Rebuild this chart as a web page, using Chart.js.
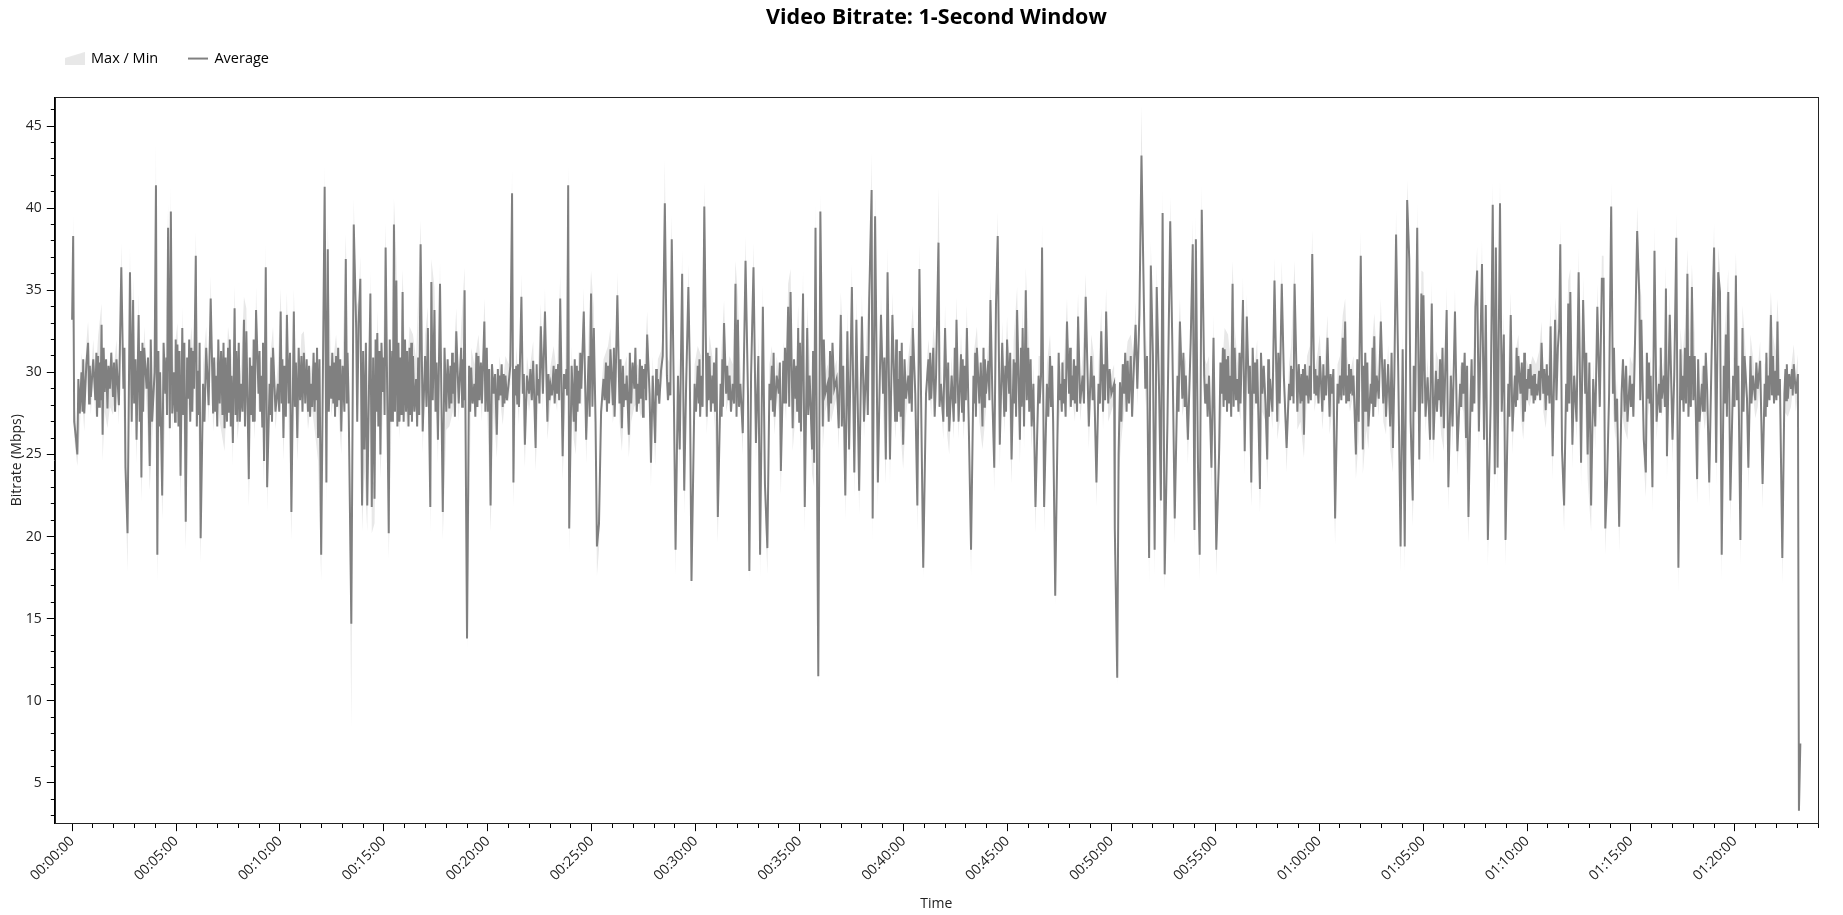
<!DOCTYPE html>
<html lang="en">
<head>
<meta charset="UTF-8">
<title>Video Bitrate: 1-Second Window</title>
<script src="https://cdn.jsdelivr.net/npm/chart.js"></script>
<style>
  html, body { margin: 0; padding: 0; background: #fff; }
  .wrap { position: relative; width: 1843px; height: 915px; }
</style>
</head>
<body>
<div class="wrap"><canvas id="bitrate"></canvas></div>
<script>
// average bitrate samples: [seconds from start, Mbps]
const avgSeries = [
  [0,33.2],[3,38.3],[6,27.0],[11,26.0],[15,25.0],[18,29.6],[22,27.5],[27,30.0],[30,27.6],[32,30.8],[35,27.5],[41,30.5],[46,31.8],[49,28.1],[51,30.4],
  [54,28.5],[61,30.8],[67,28.3],[70,31.2],[72,27.3],[75,31.0],[78,27.9],[80,30.6],[82,28.3],[85,32.9],[88,26.2],[91,31.5],[94,28.8],[98,30.8],[102,27.8],[105,30.4],[109,29.0],[113,31.2],[118,28.5],[121,30.6],[124,27.6],
  [128,30.8],[135,28.0],[142,36.4],[148,29.0],[151,31.5],[154,24.2],[160,20.2],[167,36.1],[172,27.0],[176,34.4],[179,28.1],[183,30.8],[186,25.9],
  [192,33.5],[195,27.0],[197,31.3],[200,23.6],[203,31.8],[205,27.6],[208,31.5],[215,29.0],[219,30.9],[224,24.3],[227,32.0],[231,27.0],[238,30.0],[242,41.4],[246,18.9],[249,31.3],[251,26.7],[254,30.0],
  [260,22.5],[264,31.8],[269,28.7],[272,30.9],[274,27.4],[277,38.8],[282,26.6],[285,39.8],[289,27.5],[294,30.0],[297,27.0],[299,32.0],[301,27.6],[304,31.7],[307,26.7],[310,31.3],[313,23.7],[318,32.7],[321,27.4],[324,31.8],
  [328,20.9],[332,30.9],[335,28.4],[338,32.0],[341,27.0],[344,31.5],[347,27.6],[349,31.3],[352,29.0],[357,37.1],[360,26.7],[363,30.1],[366,27.4],[368,31.8],[371,19.9],[378,29.3],[382,27.0],[387,31.5],[394,28.0],
  [400,34.5],[407,27.5],[410,30.9],[413,27.6],[416,29.8],[419,26.7],[422,32.0],[426,28.1],[430,31.3],[434,27.4],[437,31.8],[440,26.6],[443,30.9],[447,27.0],[450,31.5],[453,27.6],[455,32.0],[458,26.7],[460,29.8],[464,25.7],[469,33.9],[472,27.4],[474,31.3],[477,27.0],[481,31.8],[484,27.0],
  [488,29.3],[492,27.6],[496,33.2],[499,26.7],[503,32.5],[510,23.5],[513,30.9],[516,27.4],[519,30.4],[522,27.0],[524,32.0],[527,27.0],[531,33.8],[538,28.7],[541,31.3],[543,27.6],[546,29.8],[549,26.7],[551,31.8],[554,24.6],
  [559,36.4],[563,23.0],[570,29.3],[573,27.4],[575,30.9],[577,27.0],[580,31.5],[587,27.6],[594,29.3],[598,27.6],[602,33.7],[605,28.1],[607,30.8],[610,26.0],[613,30.4],[617,27.3],[620,33.5],[625,28.1],[629,31.2],
  [633,21.5],[640,33.7],[643,27.9],[646,30.6],[650,26.0],[654,31.5],[658,28.3],[662,31.0],[665,27.6],[669,31.2],[673,28.1],[677,30.8],[681,27.6],[684,30.4],[687,27.3],[690,29.3],[693,27.9],[697,31.2],[700,27.6],[703,30.6],[705,28.3],[707,31.5],[710,26.0],[714,30.8],[719,18.9],
  [729,41.3],[734,23.3],[738,37.5],[741,27.6],[744,30.4],[748,28.4],[751,31.2],[754,28.1],[757,30.6],[759,27.3],[762,31.0],[765,27.9],[768,31.5],[771,28.3],[774,30.8],[777,26.4],[781,30.4],[786,27.6],[790,36.9],[793,28.1],[795,31.2],[798,28.4],[806,14.7],[813,39.0],
  [820,32.7],[823,27.0],[827,33.0],[832,35.7],[837,21.9],[840,31.3],[844,25.3],[848,31.8],[852,21.9],[861,34.8],[865,21.8],[869,30.9],[873,22.3],[876,32.0],[878,27.6],[881,32.4],[884,26.7],[887,31.3],
  [890,25.0],[893,31.8],[897,28.8],[900,30.9],[902,27.4],[905,37.6],[914,20.2],[917,32.0],[921,27.0],[924,31.3],[926,27.0],[929,39.0],[932,27.6],[936,35.6],[939,26.7],[942,31.8],[945,27.0],[948,30.9],[951,27.4],[954,34.9],[957,27.0],[961,32.0],[964,27.6],[967,31.3],[971,26.7],
  [974,31.5],[977,27.4],[979,31.8],[981,27.0],[984,31.0],[988,27.6],[993,29.6],[996,26.7],[999,30.9],[1002,27.4],[1006,37.8],[1012,26.4],[1019,31.0],[1023,27.9],[1027,32.7],[1034,21.8],[1037,35.5],[1041,28.3],[1046,33.8],[1049,27.6],[1052,30.6],
  [1056,25.9],[1062,35.4],[1070,21.5],[1075,31.5],[1080,27.6],[1084,30.8],[1089,27.8],[1092,30.4],[1095,28.1],[1097,31.2],[1099,28.7],[1102,30.6],[1105,27.3],[1109,32.5],[1116,28.1],[1123,31.5],[1126,27.9],[1128,30.8],[1130,28.3],[1133,35.0],
  [1140,13.8],[1146,30.4],[1149,27.6],[1152,30.3],[1156,28.1],[1161,29.3],[1164,27.3],[1167,31.2],[1170,27.9],[1173,31.0],[1176,28.3],[1180,30.6],[1183,28.1],[1190,33.1],[1193,27.6],[1197,31.5],[1200,27.6],[1204,30.2],[1208,21.9],[1212,30.5],[1217,28.7],[1221,29.9],[1226,26.2],[1229,30.2],[1231,28.3],
  [1234,29.8],[1237,28.6],[1240,30.5],[1243,27.9],[1246,29.9],[1248,28.1],[1251,29.8],[1255,28.3],[1260,29.3],[1265,30.4],[1270,40.9],[1274,23.3],[1277,30.2],[1279,28.6],[1282,30.4],[1285,28.1],[1287,30.5],[1290,27.9],[1297,34.6],
  [1301,28.7],[1304,29.9],[1307,25.6],[1313,29.8],[1319,28.7],[1323,30.2],[1327,28.3],[1331,30.7],[1338,25.4],[1341,30.5],[1343,28.6],[1346,29.6],[1349,28.1],[1353,32.8],[1359,28.7],[1365,33.7],
  [1372,27.0],[1375,29.9],[1378,28.3],[1381,29.2],[1385,28.6],[1390,30.4],[1393,28.1],[1397,30.2],[1400,28.7],[1403,30.5],[1406,28.3],[1409,34.5],[1416,24.9],[1420,29.9],[1424,29.0],[1427,30.2],[1429,28.6],[1432,41.4],[1435,20.5],[1442,30.4],
  [1448,27.0],[1451,30.8],[1454,26.4],[1457,30.4],[1459,27.6],[1462,30.1],[1465,28.1],[1467,31.2],[1470,29.0],[1477,33.7],[1484,25.9],[1491,31.0],[1494,27.3],[1498,34.8],[1502,27.9],[1506,32.7],[1511,27.0],
  [1515,19.4],[1521,20.8],[1527,27.6],[1534,29.6],[1537,28.3],[1541,30.6],[1544,27.6],[1547,30.4],[1550,28.1],[1554,31.4],[1561,28.0],[1564,31.5],[1566,27.3],[1569,29.6],[1574,34.7],[1580,28.1],[1583,30.8],
  [1587,26.6],[1590,30.4],[1592,27.9],[1595,29.3],[1598,28.3],[1601,29.8],[1607,26.2],[1610,31.2],[1614,28.1],[1618,30.6],[1623,29.0],[1626,31.5],[1630,27.6],[1633,29.3],[1636,28.1],[1639,30.8],[1642,28.4],[1645,30.4],[1648,27.3],[1650,30.2],[1652,29.0],[1655,30.5],[1657,28.3],[1660,32.3],
  [1667,28.7],[1671,24.5],[1676,29.8],[1683,25.7],[1686,30.2],[1688,28.6],[1691,29.6],[1695,28.1],[1700,30.1],[1705,31.0],[1711,40.3],[1717,29.8],[1720,28.3],[1724,29.4],[1727,28.6],
  [1731,38.1],[1737,28.7],[1742,19.2],[1749,29.8],[1754,25.3],[1761,36.0],[1767,22.8],[1772,28.7],[1779,35.2],[1783,30.4],
  [1788,17.3],[1797,29.3],[1801,27.6],[1806,30.4],[1809,28.1],[1811,30.8],[1813,27.3],[1816,29.8],[1820,27.9],[1825,40.1],[1832,27.3],[1835,31.2],[1837,28.3],[1840,31.0],[1844,27.6],[1848,29.8],[1851,28.1],[1853,30.6],[1856,27.6],[1860,31.5],[1864,21.2],
  [1872,29.3],[1875,27.3],[1877,30.8],[1879,27.9],[1882,33.0],[1888,28.7],[1891,30.4],[1895,28.3],[1898,29.8],[1902,27.6],[1907,29.3],[1911,28.1],[1915,35.4],[1918,27.3],[1922,33.2],[1925,27.9],[1929,29.3],[1936,26.3],[1944,36.8],
  [1951,28.7],[1955,17.9],[1960,29.8],[1967,36.4],[1974,25.7],[1981,31.0],[1986,18.9],[1994,34.0],[2000,23.2],[2007,19.3],
  [2013,29.3],[2016,28.3],[2020,30.4],[2023,27.6],[2025,31.2],[2028,27.3],[2034,29.8],[2040,28.7],[2043,30.6],[2046,24.0],[2053,30.7],[2056,28.1],[2058,31.5],[2061,28.1],[2067,34.0],[2070,27.9],[2074,34.9],
  [2080,26.6],[2084,30.8],[2088,28.4],[2091,30.4],[2093,27.6],[2096,32.7],[2099,27.0],[2101,31.8],[2104,26.4],[2110,34.8],[2115,21.8],[2122,32.7],[2125,27.4],[2129,29.8],[2136,25.3],[2139,31.3],[2142,24.5],
  [2146,38.8],[2154,11.5],[2160,39.8],[2167,26.7],[2170,32.0],[2174,28.7],[2181,29.3],[2184,27.0],[2188,31.3],[2191,28.1],[2195,31.8],[2200,29.0],[2207,29.6],[2213,26.6],
  [2219,33.5],[2222,26.7],[2226,30.4],[2232,22.5],[2238,32.5],[2243,25.3],[2251,35.2],[2258,23.9],[2264,33.2],[2272,22.8],[2280,33.4],
  [2286,27.0],[2293,31.0],[2297,27.4],[2301,34.4],[2308,41.1],[2311,21.1],[2318,39.5],[2326,23.3],[2335,33.5],[2341,28.7],[2345,30.9],[2349,24.7],
  [2354,36.1],[2361,24.7],[2368,33.5],[2376,27.0],[2379,32.0],[2381,27.0],[2384,29.6],[2387,27.6],[2389,31.3],[2392,27.3],[2395,31.8],[2399,25.6],[2403,30.8],[2407,28.4],[2414,29.8],[2417,28.1],[2421,31.0],[2424,27.6],
  [2427,32.7],[2434,28.7],[2440,21.9],[2446,36.3],[2457,18.1],[2465,28.7],[2472,30.8],[2475,28.3],[2477,31.2],[2480,28.4],[2486,31.5],[2490,27.3],[2494,29.8],
  [2501,37.9],[2504,27.9],[2508,29.3],[2515,27.0],[2520,32.7],[2526,27.3],[2529,30.6],[2532,26.4],[2539,29.8],[2545,27.0],[2548,31.5],[2550,28.1],[2553,33.2],[2559,27.0],
  [2566,31.1],[2569,27.6],[2571,30.8],[2574,27.0],[2577,30.4],[2580,28.3],[2583,32.7],[2588,27.3],[2595,19.2],[2602,29.8],[2605,28.1],[2607,31.2],[2609,27.3],[2612,31.5],[2619,28.1],[2623,30.6],[2628,26.7],[2631,31.5],[2633,27.9],[2635,30.8],[2638,28.7],
  [2645,30.7],[2648,28.3],[2651,34.4],[2657,28.1],[2662,24.2],[2667,34.1],[2672,38.3],[2678,25.6],[2685,31.8],[2691,27.3],[2694,30.4],[2696,27.6],[2699,32.0],
  [2705,28.7],[2708,31.2],[2712,24.7],[2718,30.8],[2721,28.1],[2723,30.6],[2725,27.3],[2728,33.8],[2736,25.9],[2739,31.5],[2741,27.9],[2744,32.7],[2748,26.7],[2753,35.0],[2756,28.3],[2760,31.5],[2763,27.6],[2767,30.8],[2770,26.7],
  [2775,29.3],[2781,21.8],[2790,29.8],[2793,28.1],[2797,29.8],[2800,37.6],[2806,21.8],[2814,29.3],[2818,27.3],[2823,31.0],[2826,27.9],[2829,30.4],[2832,27.0],[2838,16.4],
  [2845,27.0],[2848,31.2],[2851,28.3],[2854,29.3],[2857,27.6],[2859,30.6],[2861,28.1],[2864,29.6],[2868,27.3],[2872,33.1],[2878,28.7],[2881,31.5],[2883,27.9],[2886,29.8],[2889,28.3],[2892,30.8],[2895,28.1],[2898,30.4],[2901,27.6],[2904,33.4],[2910,28.1],[2917,29.8],[2921,28.1],
  [2926,34.6],[2935,26.7],[2942,31.0],[2946,28.3],[2950,29.8],[2957,23.3],[2963,29.3],[2967,28.1],[2971,32.5],[2976,27.6],[2979,30.5],[2982,28.3],[2985,33.7],[2991,28.1],[2995,30.2],
  [3000,28.7],[3008,29.3],[3010,20.5],[3017,11.4],[3021,25.0],[3025,29.4],[3029,27.0],[3033,30.5],[3037,28.7],[3040,31.2],[3044,27.6],[3047,30.7],[3051,28.1],[3056,31.0],[3060,27.3],[3064,29.8],
  [3070,32.9],[3075,29.0],[3081,33.5],[3087,43.2],[3093,35.5],[3098,29.0],[3103,31.0],[3109,18.7],[3114,36.5],[3120,31.0],
  [3125,19.2],[3131,35.2],[3138,28.7],[3143,22.2],[3148,39.7],[3154,17.7],[3162,27.0],[3170,39.2],[3176,31.8],[3183,21.1],
  [3191,29.8],[3194,27.6],[3198,33.1],[3205,28.4],[3208,31.2],[3212,27.9],[3215,29.8],[3221,25.9],[3229,31.8],[3235,37.8],[3240,20.4],[3244,38.1],[3250,24.5],
  [3255,18.9],[3261,39.9],[3268,29.8],[3271,28.1],[3275,29.3],[3278,27.3],[3282,29.8],[3289,24.2],[3295,32.1],[3303,19.2],[3311,25.0],[3315,30.6],[3319,28.7],[3322,31.5],[3324,27.9],
  [3327,31.4],[3330,28.3],[3332,30.8],[3334,27.6],[3337,31.0],[3340,28.1],[3343,29.8],[3346,27.3],[3350,35.4],[3353,27.9],[3356,31.5],[3360,28.3],[3364,29.6],[3367,27.6],[3370,31.2],[3373,28.1],[3380,34.4],[3385,25.2],[3391,33.4],
  [3397,28.7],[3400,30.4],[3404,23.3],[3408,31.5],[3412,28.7],[3415,30.6],[3418,28.1],[3421,30.8],[3429,22.9],[3432,31.2],[3436,28.7],[3440,30.4],[3445,28.1],[3450,24.7],[3453,30.8],[3455,27.3],[3458,29.6],[3465,27.6],
  [3471,35.6],[3479,27.0],[3482,31.2],[3486,28.1],[3492,35.4],[3498,29.8],[3506,25.4],[3513,29.3],[3516,28.3],[3519,30.4],[3522,28.6],[3524,30.2],[3526,28.1],[3529,35.4],[3537,27.6],[3541,30.5],
  [3546,28.1],[3549,29.9],[3551,28.3],[3553,30.2],[3556,26.2],[3559,30.5],[3562,28.6],[3565,29.8],[3569,28.1],[3573,30.4],[3576,28.3],[3580,37.2],[3586,28.7],[3589,30.2],[3591,28.6],[3594,29.8],[3598,28.1],[3602,31.0],[3609,27.6],[3612,30.5],[3614,28.3],[3617,29.8],[3620,28.6],
  [3624,32.1],[3630,27.3],[3633,29.9],[3637,28.7],[3641,30.2],[3646,21.1],[3653,29.3],[3656,28.1],[3660,29.8],[3664,28.3],[3668,32.1],[3671,28.6],[3675,33.1],[3678,28.1],[3681,29.8],[3684,28.3],[3686,30.5],[3689,28.7],[3692,30.2],[3696,28.6],
  [3699,29.8],[3706,25.0],[3710,30.8],[3714,27.0],[3720,37.1],[3726,25.3],[3729,30.4],[3731,27.6],[3733,31.2],[3736,27.6],[3739,30.6],[3742,26.7],[3749,29.3],[3752,28.1],[3754,31.5],[3756,27.3],[3759,32.2],[3762,27.9],[3766,29.8],
  [3772,28.4],[3778,33.1],[3785,28.1],[3789,30.8],[3793,27.3],[3799,30.5],[3805,26.7],[3809,31.2],[3813,25.4],[3817,29.8],[3822,38.4],[3828,30.4],
  [3835,19.4],[3841,31.4],[3847,19.4],[3854,40.5],[3860,36.9],[3864,27.0],[3870,22.2],[3873,30.4],[3877,27.6],[3883,38.8],[3889,24.7],
  [3895,34.8],[3898,28.1],[3901,34.7],[3907,27.3],[3913,29.7],[3920,25.9],[3925,34.2],[3930,25.9],[3937,30.1],[3940,27.6],[3944,29.6],[3947,28.3],[3949,30.8],[3952,27.3],[3956,31.5],
  [3960,26.6],[3968,33.8],[3973,23.0],[3980,29.8],[3985,26.7],[3992,33.7],[3999,25.2],[4007,29.3],[4010,27.9],[4013,30.6],[4016,28.7],[4020,31.2],[4024,26.0],[4027,30.4],
  [4031,21.2],[4037,28.4],[4040,30.8],[4042,27.6],[4045,29.8],[4048,28.1],[4051,34.0],[4056,36.2],[4061,26.4],[4070,36.6],[4076,25.9],[4081,34.1],[4087,19.8],
  [4095,28.1],[4101,40.2],[4107,23.8],[4110,37.6],[4115,24.2],[4122,40.3],[4127,27.6],[4133,32.3],[4138,19.8],[4146,29.3],[4149,27.3],
  [4153,33.5],[4158,26.4],[4165,29.8],[4168,27.9],[4170,31.5],[4172,28.3],[4175,31.0],[4181,28.7],[4185,30.6],[4189,27.0],[4192,31.2],[4194,27.6],[4197,29.6],[4200,28.3],[4204,30.2],[4207,29.0],[4210,30.5],[4213,28.6],[4216,29.8],[4219,28.1],[4221,29.9],[4223,28.3],[4226,29.3],[4230,28.6],
  [4235,30.1],[4238,28.3],[4242,31.8],[4247,28.7],[4250,30.2],[4254,27.7],[4257,30.5],[4259,28.6],[4262,29.8],[4265,28.1],[4268,32.8],[4274,24.9],[4281,33.2],[4285,28.3],[4289,31.5],[4293,32.7],
  [4296,37.8],[4301,25.3],[4307,21.9],[4313,29.3],[4316,27.6],[4319,34.2],[4322,28.1],[4325,34.9],[4331,25.6],[4336,29.8],[4343,27.0],[4349,36.1],
  [4356,24.5],[4362,34.4],[4368,28.7],[4371,31.2],[4375,25.0],[4380,30.6],[4385,21.9],[4391,29.6],[4397,26.7],[4403,34.0],[4410,27.9],[4416,35.7],
  [4421,35.7],[4426,20.5],[4431,23.3],[4437,28.7],[4443,40.1],[4448,28.7],[4451,31.5],[4455,27.0],[4460,28.4],[4466,20.6],[4473,28.7],[4477,30.8],
  [4482,27.6],[4486,30.4],[4490,27.0],[4497,29.8],[4500,27.9],[4504,29.3],[4507,27.3],[4511,31.0],[4518,38.6],[4524,34.7],[4527,28.3],[4530,33.2],[4537,25.9],[4543,23.9],[4546,31.2],
  [4549,28.4],[4552,30.6],[4554,28.1],[4557,29.8],[4562,23.0],[4568,37.4],[4574,27.0],[4581,29.3],[4584,27.6],[4586,31.5],[4589,28.4],[4595,29.8],[4598,27.9],[4601,35.1],[4604,24.9],
  [4612,33.5],[4620,25.9],[4625,29.8],[4631,38.2],[4637,18.1],[4643,31.4],[4646,28.3],[4649,29.8],[4652,27.6],[4656,31.5],[4659,28.1],[4663,36.0],[4666,27.3],[4670,31.0],[4673,27.9],
  [4676,35.2],[4680,28.3],[4684,31.0],[4691,23.5],[4694,30.8],[4698,27.0],[4705,29.3],[4708,27.6],[4710,30.4],[4713,27.6],[4716,31.2],[4720,29.0],[4726,23.3],[4733,31.2],[4740,37.6],
  [4746,24.5],[4752,36.1],[4757,34.9],[4762,18.9],[4768,30.4],[4771,28.1],[4774,32.3],[4777,27.3],[4781,34.9],[4787,22.2],[4795,29.8],[4799,27.9],[4803,35.9],[4806,28.3],
  [4810,30.4],[4816,19.8],[4822,32.7],[4825,27.6],[4828,31.0],[4835,28.4],[4839,24.2],[4845,31.0],[4848,28.1],[4852,29.8],[4859,28.3],[4862,30.6],[4866,29.0],
  [4873,30.7],[4880,23.2],[4886,29.3],[4889,27.3],[4891,31.2],[4893,27.9],[4896,29.8],[4900,28.3],[4904,33.5],[4907,28.6],[4910,31.0],[4913,28.1],[4917,30.1],[4920,28.3],[4923,33.1],[4926,28.6],[4930,29.6],[4937,18.7],
  [4943,28.7],[4946,30.2],[4948,28.3],[4950,30.5],[4953,28.4],[4957,29.9],[4962,29.0],[4965,30.2],[4967,28.6],[4970,30.5],[4976,28.7],[4982,29.9],[4985,3.3],[4989,7.4]
];

// time of each max/min window reading, seconds from start
const bandSeconds = [
  0,3,6,11,15,22,27,35,41,46, 54,61,67,75,85,88,94,102,109,118,
  128,135,142,148,154,160,167,172,176,186, 192,200,208,215,224,231,238,242,246,254,
  260,269,277,282,285,289,294,304,313,318, 328,335,344,352,357,363,371,378,387,394,
  400,407,416,426,440,450,460,464,469,477, 488,496,503,510,519,527,531,538,546,554,
  559,563,570,580,587,594,602,610,620,625, 633,640,650,662,669,681,690,700,710,719,
  729,734,738,748,762,777,790,798,806,813, 820,827,832,837,844,852,861,865,873,881,
  890,897,905,914,921,929,936,945,954,964, 974,984,993,1006,1012,1019,1027,1034,1037,1046,
  1056,1062,1070,1080,1089,1099,1109,1116,1123,1133, 1140,1152,1161,1173,1183,1190,1200,1208,1217,1226,
  1234,1243,1251,1260,1265,1270,1274,1282,1290,1297, 1301,1307,1313,1319,1331,1338,1346,1353,1359,1365,
  1372,1381,1390,1400,1409,1416,1424,1432,1435,1442, 1448,1454,1462,1470,1477,1484,1491,1498,1506,1511,
  1515,1521,1527,1534,1547,1554,1561,1569,1574,1580, 1587,1595,1601,1607,1614,1623,1633,1642,1652,1660,
  1667,1671,1676,1683,1691,1700,1705,1711,1717,1724, 1731,1737,1742,1749,1754,1761,1767,1772,1779,1783,
  1788,1797,1806,1816,1825,1832,1840,1848,1856,1864, 1872,1882,1888,1898,1907,1915,1922,1929,1936,1944,
  1951,1955,1960,1967,1974,1981,1986,1994,2000,2007, 2013,2020,2028,2034,2040,2046,2053,2061,2067,2074,
  2080,2088,2096,2104,2110,2115,2122,2129,2136,2142, 2146,2154,2160,2167,2174,2181,2191,2200,2207,2213,
  2219,2226,2232,2238,2243,2251,2258,2264,2272,2280, 2286,2293,2301,2308,2311,2318,2326,2335,2341,2349,
  2354,2361,2368,2376,2384,2392,2399,2407,2414,2421, 2427,2434,2440,2446,2457,2465,2472,2480,2486,2494,
  2501,2508,2515,2520,2526,2532,2539,2545,2553,2559, 2566,2574,2583,2588,2595,2602,2612,2619,2628,2638,
  2645,2651,2657,2662,2667,2672,2678,2685,2691,2699, 2705,2712,2718,2728,2736,2744,2748,2753,2760,2770,
  2775,2781,2790,2797,2800,2806,2814,2823,2832,2838, 2845,2854,2864,2872,2878,2886,2895,2904,2910,2917,
  2926,2935,2942,2950,2957,2963,2971,2976,2985,2991, 3000,3008,3010,3017,3021,3029,3037,3047,3056,3064,
  3070,3075,3081,3087,3093,3098,3103,3109,3114,3120, 3125,3131,3138,3143,3148,3154,3162,3170,3176,3183,
  3191,3198,3205,3215,3221,3229,3235,3240,3244,3250, 3255,3261,3268,3275,3282,3289,3295,3303,3311,3319,
  3327,3337,3343,3350,3356,3364,3373,3380,3385,3391, 3397,3404,3412,3421,3429,3436,3445,3450,3458,3465,
  3471,3479,3486,3492,3498,3506,3513,3519,3529,3537, 3546,3556,3565,3573,3580,3586,3594,3602,3609,3617,
  3624,3630,3637,3646,3653,3660,3668,3675,3681,3689, 3699,3706,3714,3720,3726,3736,3742,3749,3759,3766,
  3772,3778,3785,3793,3799,3805,3813,3817,3822,3828, 3835,3841,3847,3854,3860,3864,3870,3877,3883,3889,
  3895,3901,3907,3913,3920,3925,3930,3937,3944,3952, 3960,3968,3973,3980,3985,3992,3999,4007,4016,4024,
  4031,4037,4045,4051,4056,4061,4070,4076,4081,4087, 4095,4101,4107,4110,4115,4122,4127,4133,4138,4146,
  4153,4158,4165,4175,4181,4189,4197,4207,4216,4226, 4235,4242,4247,4254,4262,4268,4274,4281,4289,4293,
  4296,4301,4307,4313,4319,4325,4331,4336,4343,4349, 4356,4362,4368,4375,4385,4391,4397,4403,4410,4416,
  4421,4426,4431,4437,4443,4448,4455,4460,4466,4473, 4482,4490,4497,4504,4511,4518,4524,4530,4537,4543,
  4549,4557,4562,4568,4574,4581,4589,4595,4601,4604, 4612,4620,4625,4631,4637,4643,4649,4656,4663,4670,
  4676,4684,4691,4698,4705,4713,4720,4726,4733,4740, 4746,4752,4757,4762,4768,4774,4781,4787,4795,4803,
  4810,4816,4822,4828,4835,4839,4845,4852,4859,4866, 4873,4880,4886,4896,4904,4910,4917,4923,4930,4937,
  4943,4953,4962,4970,4976,4982,4985,4989
];

// highest 1-second value in each window, Mbps
const maxMbps = [
  34.4,39.6,28.2,27.2,26.2,28.8,31.2,28.8,31.8,33.1, 29.7,32.0,29.5,32.2,34.2,27.4,30.0,29.0,30.2,29.7,
  32.0,29.2,37.9,30.2,25.4,21.4,37.6,28.2,35.8,27.1, 34.8,24.8,32.8,30.2,25.5,28.2,31.3,44.0,20.1,31.2,
  23.7,29.9,40.3,27.8,41.4,28.7,31.2,33.0,24.9,34.0, 22.1,29.6,32.8,30.2,38.6,31.3,21.1,30.5,32.8,29.2,
  35.9,28.7,31.0,29.3,27.8,32.8,31.0,26.9,35.3,28.2, 30.5,34.6,33.9,24.7,31.6,28.2,35.2,29.9,31.0,25.8,
  37.9,24.2,30.5,32.8,28.8,30.5,35.1,27.2,34.9,29.3, 22.7,35.1,27.2,32.3,32.5,28.8,30.5,28.8,27.2,20.1,
  42.6,24.5,39.1,29.6,32.3,27.6,38.4,29.6,15.9,40.6, 34.0,34.4,37.1,23.1,26.5,23.1,36.2,23.0,23.5,33.8,
  26.2,30.0,39.1,21.4,28.2,40.6,37.0,28.2,36.3,28.8, 32.8,32.3,30.8,39.3,27.6,32.3,34.0,23.0,36.9,35.2,
  27.1,36.8,22.7,28.8,29.0,29.9,33.9,29.3,32.8,36.4, 15.0,31.5,30.5,32.3,29.3,34.5,28.8,23.1,29.9,27.4,
  31.0,29.1,31.0,30.5,31.6,42.4,24.5,31.6,29.1,36.0, 29.9,26.8,31.0,29.9,31.9,26.6,30.8,34.2,29.9,35.1,
  28.2,30.4,31.6,29.9,35.9,26.1,30.2,42.6,21.7,31.6, 28.2,27.6,31.3,30.2,35.1,27.1,32.3,36.2,34.0,28.2,
  20.6,22.0,28.8,30.8,31.6,32.7,29.2,30.8,36.1,29.3, 27.8,30.5,31.0,27.4,29.3,30.2,30.5,29.6,30.2,33.7,
  29.9,25.7,31.0,26.9,30.8,31.3,32.3,43.0,31.0,30.6, 39.6,29.9,20.4,31.0,26.5,37.5,24.0,29.9,36.6,31.6,
  18.5,30.5,31.6,31.0,41.6,28.5,32.3,31.0,28.8,22.4, 30.5,34.4,29.9,31.0,30.5,36.8,34.6,30.5,27.5,38.3,
  29.9,19.1,31.0,37.9,26.9,32.3,20.1,35.4,24.4,20.5, 30.5,31.6,28.5,31.0,29.9,25.2,31.9,29.3,35.4,36.3,
  27.8,29.6,34.1,27.6,36.2,23.0,34.1,31.0,26.5,25.7, 40.3,12.7,40.9,27.9,29.9,30.5,29.3,30.2,30.8,27.8,
  34.9,31.6,23.7,33.9,26.5,36.6,25.1,34.6,24.0,34.8, 28.2,32.3,35.8,43.4,22.3,41.0,24.5,34.9,29.9,25.9,
  37.6,25.9,34.9,28.2,30.8,28.5,26.8,29.6,31.0,32.3, 34.1,29.9,23.1,37.8,19.3,29.9,32.0,29.6,32.8,31.0,
  41.3,30.5,28.2,34.1,28.5,27.6,31.0,28.2,34.6,28.2, 32.4,28.2,34.1,28.5,20.4,31.0,32.8,29.3,27.9,29.9,
  31.9,35.8,29.3,25.4,35.5,39.8,26.8,33.1,28.5,33.4, 29.9,25.9,32.0,35.2,27.1,34.1,27.9,36.4,32.8,27.9,
  30.5,23.0,31.0,31.0,39.1,23.0,30.5,32.3,28.2,17.6, 28.2,30.5,30.8,34.5,29.9,31.0,29.3,34.8,29.3,31.0,
  36.0,27.9,32.3,31.0,24.5,30.5,33.9,28.8,35.1,29.3, 29.9,30.5,21.7,12.6,26.2,28.2,29.9,31.9,32.3,31.0,
  34.3,30.2,34.9,46.3,36.9,30.2,32.3,19.9,38.0,32.3, 20.4,36.6,29.9,23.4,41.2,18.9,28.2,40.7,33.1,22.3,
  31.0,34.5,29.6,31.0,27.1,33.1,39.3,21.6,39.6,25.7, 20.1,41.4,31.0,30.5,31.0,25.4,33.5,20.4,26.2,29.9,
  32.7,32.3,31.0,36.8,32.8,30.8,29.3,35.8,26.4,34.8, 29.9,24.5,29.9,32.0,24.1,29.9,29.3,25.9,30.8,28.8,
  37.0,28.2,29.3,36.8,31.0,26.6,30.5,31.6,36.8,28.8, 29.3,27.4,31.0,31.6,38.7,29.9,31.0,32.3,28.8,31.0,
  33.5,28.5,29.9,22.3,30.5,31.0,33.5,34.5,31.0,29.9, 31.0,26.2,28.2,38.6,26.5,28.8,27.9,30.5,33.6,31.0,
  29.6,34.5,29.3,28.5,31.7,27.9,26.6,31.0,39.9,31.6, 20.6,32.7,20.6,41.7,38.4,28.2,23.4,28.8,40.3,25.9,
  36.2,36.1,28.5,30.9,27.1,35.6,27.1,31.3,30.8,28.5, 27.8,35.2,24.2,31.0,27.9,35.1,26.4,30.5,29.9,27.2,
  22.4,29.6,31.0,35.4,37.7,27.6,38.1,27.1,35.5,21.0, 29.3,41.6,25.0,39.1,25.4,41.8,28.8,33.7,21.0,30.5,
  34.9,27.6,31.0,32.3,29.9,28.2,30.8,30.2,31.0,30.5, 31.3,33.1,29.9,28.9,31.0,34.2,26.1,34.6,32.8,34.1,
  39.3,26.5,23.1,30.5,35.6,36.3,26.8,31.0,28.2,37.6, 25.7,35.8,29.9,26.2,23.1,30.8,27.9,35.4,29.1,37.1,
  37.1,21.7,24.5,29.9,41.6,29.9,28.2,29.6,21.8,29.9, 28.8,28.2,31.0,30.5,32.3,40.1,36.1,34.6,27.1,25.1,
  29.6,31.0,24.2,38.9,28.2,30.5,29.6,31.0,36.5,26.1, 34.9,27.1,31.0,39.7,19.3,32.7,31.0,32.8,37.5,32.3,
  36.6,32.3,24.7,28.2,30.5,28.8,30.2,24.5,32.5,39.1, 25.7,37.6,36.3,20.1,31.6,33.7,36.3,23.4,31.0,37.3,
  31.6,21.0,34.1,32.3,29.6,25.4,32.3,31.0,29.5,30.2, 31.9,24.4,30.5,31.0,34.9,32.3,31.3,34.5,30.8,19.9,
  29.9,29.6,30.2,31.7,29.9,31.1,3.9,7.9
];

// lowest 1-second value in each window, Mbps
const minMbps = [
  32.2,37.2,26.0,25.0,24.3,26.4,29.0,26.4,29.4,30.7, 27.4,29.7,27.2,29.9,31.8,24.6,27.6,26.6,27.9,27.4,
  29.7,26.8,35.2,27.9,22.8,17.8,35.0,25.9,33.3,24.4, 32.3,22.1,30.4,27.9,22.8,25.8,28.9,40.2,17.2,28.9,
  21.0,27.6,37.7,25.2,38.7,26.4,28.9,30.6,22.2,31.6, 19.2,27.3,30.4,27.9,36.0,29.0,18.4,28.2,30.4,26.9,
  33.4,26.4,28.7,27.0,25.2,30.4,28.7,24.3,32.8,25.9, 28.2,32.1,31.4,21.8,29.3,25.9,32.7,27.6,28.7,23.1,
  35.3,21.5,28.2,30.4,26.5,28.2,32.6,24.6,32.4,27.0, 19.8,32.6,24.6,29.9,30.1,26.5,28.2,26.5,24.6,17.3,
  40.2,21.8,36.4,27.3,29.9,25.0,35.8,27.3,8.3,37.9, 31.6,31.9,34.6,20.3,23.9,20.3,33.7,20.2,20.8,31.3,
  23.5,27.7,36.5,18.6,25.9,37.9,34.5,25.9,33.8,26.5, 30.4,29.9,28.5,36.7,25.0,29.9,31.6,20.2,34.4,32.7,
  24.4,34.3,19.8,26.5,26.7,27.6,31.4,27.0,30.4,33.9, 13.2,29.2,28.2,29.9,27.0,32.0,26.5,20.3,27.6,24.8,
  28.7,26.8,28.7,28.2,29.3,39.8,21.8,29.3,26.8,33.5, 27.6,24.2,28.7,27.6,29.6,24.0,28.5,31.7,27.6,32.6,
  25.9,28.1,29.3,27.6,33.4,23.4,27.9,40.3,18.9,29.3, 25.9,25.0,29.0,27.9,32.6,24.4,29.9,33.7,31.6,25.9,
  17.6,19.2,26.5,28.5,29.3,30.3,26.9,28.5,33.6,27.0, 25.2,28.2,28.7,24.8,27.0,27.9,28.2,27.3,27.9,31.2,
  27.6,23.0,28.7,24.3,28.5,29.0,29.9,39.2,28.7,28.3, 37.0,27.6,17.6,28.7,23.8,34.9,21.3,27.6,34.1,29.3,
  16.8,28.2,29.3,28.7,39.0,26.2,29.9,28.7,26.5,19.6, 28.2,31.9,27.6,28.7,28.2,34.3,32.1,28.2,24.9,35.7,
  27.6,17.2,28.7,35.3,24.3,29.9,17.5,32.9,21.7,17.7, 28.2,29.3,26.2,28.7,27.6,22.5,29.6,27.0,32.9,33.8,
  25.2,27.3,31.6,25.0,33.7,20.2,31.6,28.7,23.8,23.0, 37.7,11.0,38.7,25.3,27.6,28.2,27.0,27.9,28.5,25.2,
  32.4,29.3,21.0,31.4,23.8,34.1,22.4,32.1,21.3,32.3, 25.9,29.9,33.3,40.0,19.6,38.4,21.8,32.4,27.6,23.2,
  35.0,23.2,32.4,25.9,28.5,26.2,24.1,27.3,28.7,29.9, 31.6,27.6,20.3,35.2,17.5,27.6,29.7,27.3,30.4,28.7,
  36.8,28.2,25.9,31.6,26.2,25.0,28.7,25.9,32.1,25.9, 30.0,25.9,31.6,26.2,17.6,28.7,30.4,27.0,25.3,27.6,
  29.6,33.3,27.0,22.7,33.0,37.2,24.1,30.7,26.2,30.9, 27.6,23.2,29.7,32.7,24.4,31.6,25.3,33.9,30.4,25.3,
  28.2,20.2,28.7,28.7,36.5,20.2,28.2,29.9,25.9,15.8, 25.9,28.2,28.5,32.0,27.6,28.7,27.0,32.3,27.0,28.7,
  33.5,25.3,29.9,28.7,21.8,28.2,31.4,26.5,32.6,27.0, 27.6,28.2,18.9,10.9,23.5,25.9,27.6,29.6,29.9,28.7,
  31.8,27.9,32.4,42.1,34.4,27.9,29.9,17.1,35.4,29.9, 17.6,34.1,27.6,20.6,38.6,16.6,25.9,38.1,30.7,19.5,
  28.7,32.0,27.3,28.7,24.4,30.7,36.7,18.8,37.0,23.0, 17.3,38.8,28.7,28.2,28.7,22.7,31.0,17.6,23.5,27.6,
  30.3,29.9,28.7,34.3,30.4,28.5,27.0,33.3,23.7,32.3, 27.6,21.8,27.6,29.7,21.4,27.6,27.0,23.2,28.5,26.5,
  34.5,25.9,27.0,34.3,28.7,23.9,28.2,29.3,34.3,26.5, 27.0,24.8,28.7,29.3,36.1,27.6,28.7,29.9,26.5,28.7,
  31.0,26.2,27.6,19.5,28.2,28.7,31.0,32.0,28.7,27.6, 28.7,23.5,25.9,36.0,23.8,26.5,25.3,28.2,31.1,28.7,
  27.3,32.0,27.0,26.2,29.4,25.3,23.9,28.7,37.3,29.3, 17.8,30.3,17.8,39.4,35.8,25.9,20.6,26.5,37.7,23.2,
  33.7,33.6,26.2,28.6,24.4,33.1,24.4,29.0,28.5,26.2, 25.2,32.7,21.5,28.7,25.3,32.6,23.7,28.2,27.6,24.6,
  19.6,27.3,28.7,32.9,35.1,25.0,35.5,24.4,33.0,18.2, 27.0,39.1,22.3,36.5,22.7,39.2,26.5,31.2,18.2,28.2,
  32.4,25.0,28.7,29.9,27.6,25.9,28.5,27.9,28.7,28.2, 29.0,30.7,27.6,26.6,28.7,31.7,23.4,32.1,30.4,31.6,
  36.7,23.8,20.3,28.2,33.1,33.8,24.1,28.7,25.9,35.0, 23.0,33.3,27.6,23.5,20.3,28.5,25.3,32.9,26.8,34.6,
  34.6,18.9,21.8,27.6,39.0,27.6,25.9,27.3,19.0,27.6, 26.5,25.9,28.7,28.2,29.9,37.5,33.6,32.1,24.4,22.4,
  27.3,28.7,21.5,36.3,25.9,28.2,27.3,28.7,34.0,23.4, 32.4,24.4,28.7,37.1,16.5,30.3,28.7,30.4,34.9,29.9,
  34.1,29.9,22.0,25.9,28.2,26.5,27.9,21.8,30.1,36.5, 23.0,35.0,33.8,17.3,29.3,31.2,33.8,20.6,28.7,34.8,
  29.3,18.2,31.6,29.9,27.3,22.7,29.9,28.7,27.2,27.9, 29.6,21.7,28.2,28.7,32.4,29.9,29.0,32.0,28.5,17.1,
  27.6,27.3,27.9,29.4,27.6,28.7,2.9,6.9
];

const chartTitle = 'Video Bitrate: 1-Second Window';
const seriesNames = ['Average', 'Max', 'Min'];
const bandLegendText = 'Max / Min';
const yTitle = 'Bitrate (Mbps)';
const xTitle = 'Time';

const LINE_GREY = '#808080';
const BAND_GREY = '#e8e8e8';
const FONT = "'Open Sans', sans-serif";

function hms(sec) {
  const s = Math.round(sec);
  const parts = [Math.floor(s / 3600), Math.floor((s % 3600) / 60), s % 60];
  return parts.map(v => String(v).padStart(2, '0')).join(':');
}

function bandPoints(values) {
  return bandSeconds.map((t, i) => ({ x: t, y: values[i] }));
}

// small legend glyphs: shaded area wedge and a line
function areaGlyph() {
  const c = document.createElement('canvas');
  c.width = 20; c.height = 13;
  const g = c.getContext('2d');
  g.fillStyle = BAND_GREY;
  g.beginPath();
  g.moveTo(0, 13); g.lineTo(0, 6); g.lineTo(20, 0); g.lineTo(20, 13);
  g.closePath(); g.fill();
  return c;
}
function lineGlyph() {
  const c = document.createElement('canvas');
  c.width = 20; c.height = 4;
  const g = c.getContext('2d');
  g.fillStyle = LINE_GREY;
  g.fillRect(0, 1, 20, 2);
  return c;
}

// plot frame + legend placement (legend sits just above the plot, left aligned)
const framePlugin = {
  id: 'frame',
  afterLayout(chart) {
    const lg = chart.legend;
    const pad = chart.options.plugins.legend.labels.padding;
    lg.left = chart.chartArea.left + 11 - pad;
    lg.top = chart.chartArea.top - 46 - pad;
  },
  afterDatasetsDraw(chart) {
    const { ctx, chartArea: a } = chart;
    ctx.save();
    ctx.strokeStyle = '#222';
    ctx.lineWidth = 1;
    ctx.strokeRect(Math.round(a.left) + 0.5, Math.round(a.top) + 0.5,
      Math.round(a.right - a.left), Math.round(a.bottom - a.top));
    ctx.restore();
  }
};

Chart.defaults.font.family = FONT;
Chart.defaults.color = '#222';

new Chart(document.getElementById('bitrate'), {
  type: 'line',
  data: {
    datasets: [
      {
        label: seriesNames[0],
        data: avgSeries.map(([t, v]) => ({ x: t, y: v })),
        borderColor: LINE_GREY,
        borderWidth: 2,
        pointRadius: 0,
        fill: false,
        tension: 0
      },
      {
        label: seriesNames[1],
        data: bandPoints(maxMbps),
        borderWidth: 0,
        borderColor: 'rgba(0,0,0,0)',
        backgroundColor: BAND_GREY,
        pointRadius: 0,
        fill: '+1',
        tension: 0
      },
      {
        label: seriesNames[2],
        data: bandPoints(minMbps),
        borderWidth: 0,
        borderColor: 'rgba(0,0,0,0)',
        pointRadius: 0,
        fill: false,
        tension: 0
      }
    ]
  },
  options: {
    responsive: true,
    maintainAspectRatio: false,
    animation: false,
    parsing: false,
    layout: { padding: { left: 0, right: 25, top: 0, bottom: 0 } },
    plugins: {
      tooltip: { enabled: false },
      title: {
        display: true,
        fullSize: false,
        text: chartTitle,
        color: '#000',
        font: { size: 21.5, weight: 'bold' },
        padding: { top: 5, bottom: 11 }
      },
      legend: {
        display: true,
        align: 'start',
        labels: {
          usePointStyle: true,
          pointStyleWidth: 18,
          padding: 31,
          color: '#333',
          font: { size: 14.5 },
          generateLabels() {
            return [
              { text: bandLegendText, pointStyle: areaGlyph(), fillStyle: BAND_GREY, strokeStyle: BAND_GREY, lineWidth: 0, hidden: false, datasetIndex: 1 },
              { text: seriesNames[0], pointStyle: lineGlyph(), fillStyle: LINE_GREY, strokeStyle: LINE_GREY, lineWidth: 0, hidden: false, datasetIndex: 0 }
            ];
          }
        }
      }
    },
    scales: {
      x: {
        type: 'linear',
        min: -50,
        max: 5040,
        border: { display: true, color: '#000', width: 1 },
        grid: {
          drawOnChartArea: false,
          drawTicks: true,
          tickLength: 8,
          tickColor: '#000',
          tickBorderDash: (c) => (Math.round(c.tick.value) % 300 === 0 ? [] : [4, 40])
        },
        ticks: {
          stepSize: 60,
          autoSkip: false,
          includeBounds: false,
          minRotation: 45,
          maxRotation: 45,
          padding: 2,
          color: '#222',
          font: { size: 14 },
          callback: (v) => (Math.round(v) % 300 === 0 ? hms(v) : '')
        },
        title: {
          display: true,
          text: xTitle,
          color: '#222',
          font: { size: 14 },
          padding: { top: 9, bottom: 3 }
        }
      },
      y: {
        type: 'linear',
        min: 2.55,
        max: 46.75,
        border: { display: true, color: '#000', width: 1 },
        grid: {
          drawOnChartArea: false,
          drawTicks: true,
          tickLength: 8,
          tickColor: '#000',
          tickBorderDash: (c) => (Math.round(c.tick.value) % 5 === 0 ? [] : [0, 4, 4, 40])
        },
        ticks: {
          stepSize: 1,
          autoSkip: false,
          includeBounds: false,
          padding: 5,
          color: '#222',
          font: { size: 14 },
          callback: (v) => (Math.round(v) % 5 === 0 ? Math.round(v) : '')
        },
        title: {
          display: true,
          text: yTitle,
          color: '#222',
          font: { size: 14 },
          padding: { top: 9, bottom: -5 }
        }
      }
    }
  },
  plugins: [framePlugin]
});
</script>
</body>
</html>
